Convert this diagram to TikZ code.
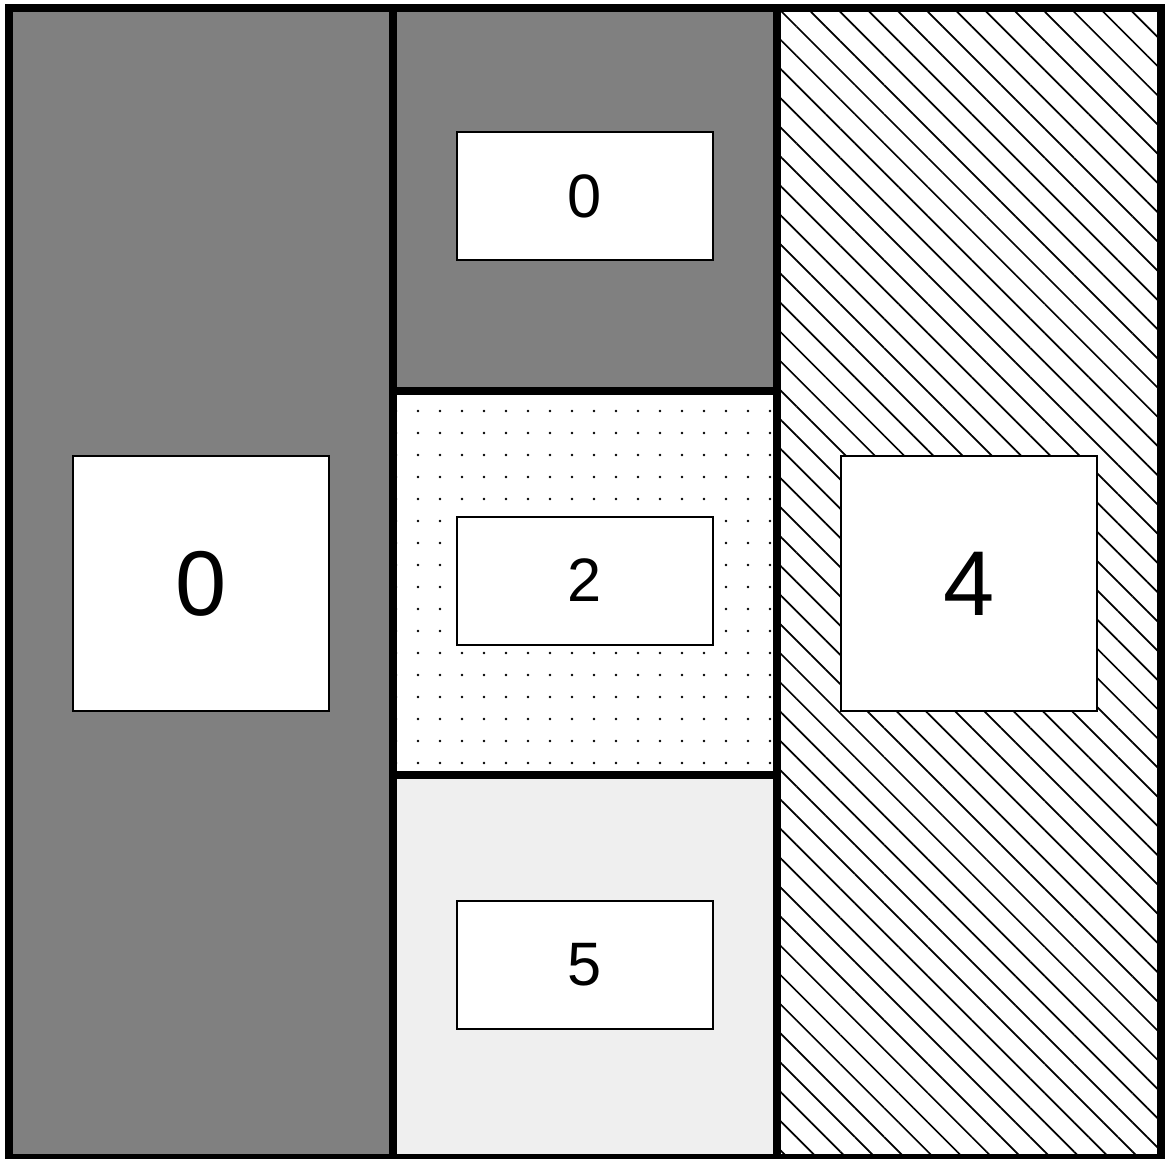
\documentclass[tikz,border=0pt]{standalone}
\usepackage{fontspec}
\setmainfont{Liberation Sans}
\usetikzlibrary{patterns.meta}
\definecolor{darkcell}{HTML}{808080}
\definecolor{lightcell}{HTML}{EFEFEF}
\tikzset{
  cellborder/.style={draw=black, line width=6pt},
  labelbox/.style={draw=black, fill=white, line width=1.5pt, inner sep=0pt,
    minimum width=192pt, minimum height=96pt, font=\fontsize{46}{46}\selectfont},
  bigbox/.style={labelbox, minimum height=191pt, font=\fontsize{69}{69}\selectfont},
}
\begin{document}
\begin{tikzpicture}[x=0.75pt, y=-0.75pt]
\useasboundingbox (0,0) rectangle (1165,1159);
\fill[white] (0,0) rectangle (1165,1159);
% cell fills
\fill[darkcell] (9,8) rectangle (393,1158);
\fill[darkcell] (393,8) rectangle (777,391);
\fill[white] (393,391) rectangle (777,775);
\fill[pattern={Dots[distance=16.5pt, radius=1pt]}, pattern color=black] (393,391) rectangle (777,775);
\fill[lightcell] (393,775) rectangle (777,1158);
\fill[white] (777,8) rectangle (1161,1158);
\fill[pattern={Lines[angle=-45, distance=15.5pt, line width=1.3pt]}, pattern color=black] (777,8) rectangle (1161,1158);
% cell borders
\draw[cellborder] (9,8) rectangle (393,1158);
\draw[cellborder] (393,8) rectangle (777,391);
\draw[cellborder] (393,391) rectangle (777,775);
\draw[cellborder] (393,775) rectangle (777,1158);
\draw[cellborder] (777,8) rectangle (1161,1158);
% label boxes
\node[bigbox] (left) at (201,583.5) {0};
\node[bigbox] (right) at (969,583.5) {4};
\node[labelbox] (top) at (585,196) {0};
\node[labelbox] (mid) at (585,580.5) {2};
\node[labelbox] (bot) at (585,964.5) {5};
\end{tikzpicture}
\end{document}
